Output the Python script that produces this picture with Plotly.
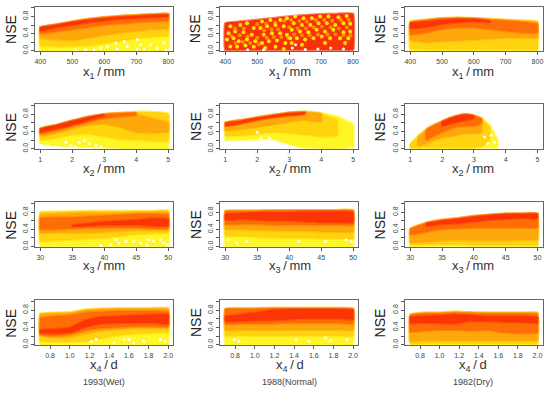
import plotly.graph_objects as go

W, H = 550, 394

# ---------- stations along each parameter ----------
X1 = [400, 450, 500, 550, 600, 650, 700, 750, 800]
X2 = [1, 1.5, 2, 2.5, 3, 3.5, 4, 4.5, 5]
X2_DRY = [1, 1.25, 1.5, 1.75, 2, 2.25, 2.5, 2.75, 3, 3.25, 3.5, 3.75]
X3 = [30, 32.5, 35, 37.5, 40, 42.5, 45, 47.5, 50]
X4 = [0.7, 0.85, 1.0, 1.15, 1.3, 1.5, 1.65, 1.85, 2.0]

# ---------- NSE band limits (colour band lower / upper) ----------
# 1993 wet, x1
w1_base = [0, 0, 0, 0, 0, 0, 0, 0, 0]
w1_top = [.55, .61, .68, .74, .78, .81, .83, .85, .86]
w1_amber_lo = [.12, .10, .10, .12, .17, .22, .28, .32, .35]
w1_orange_lo = [.30, .26, .24, .30, .36, .42, .46, .50, .52]
w1_deep_lo = [.40, .44, .50, .55, .60, .63, .66, .68, .70]
w1_red_lo = [.46, .54, .60, .66, .70, .74, .76, .78, .80]
w1_red_hi = [.54, .60, .67, .72, .76, .79, .81, .83, .84]
# 1993 wet, x2
w2_base = [.12, .06, .04, .04, .02, 0, 0, 0, 0]
w2_top = [.47, .55, .65, .74, .80, .83, .85, .85, .81]
w2_amber_lo = [.20, .25, .32, .34, .28, .22, .20, .18, .18]
w2_orange_lo = [.30, .36, .46, .54, .58, .50, .38, .36, .40]
w2_orange_hi = [.46, .54, .64, .73, .79, .82, .80, .70, .60]
w2_deep_lo = [.34, .42, .52, .62, .70, .74, .78, None, None]
w2_deep_hi = [.46, .55, .65, .74, .80, .82, .84, None, None]
w2_red_lo = [.38, .46, .55, .66, .76, None, None, None, None]
w2_red_hi = [.46, .54, .64, .73, .79, None, None, None, None]
# 1993 wet, x3
w3_base = [0, 0, 0, 0, 0, 0, 0, 0, 0]
w3_top = [.80, .81, .82, .83, .83, .83, .83, .83, .84]
w3_amber_lo = [.12, .14, .16, .18, .20, .24, .28, .30, .32]
w3_orange_lo = [.32, .32, .32, .32, .34, .36, .38, .38, .38]
w3_orange_hi = [.74, .76, .78, .78, .78, .78, .80, .80, .80]
w3_deep_lo = [.40, .40, .42, .44, .44, .44, .44, .42, .42]
w3_deep_hi = [.66, .68, .68, .70, .72, .74, .76, .76, .74]
w3_red_lo = [None, None, .47, .48, .50, .50, .50, .48, .48]
w3_red_hi = [None, None, .50, .54, .58, .60, .62, .66, .64]
# 1993 wet, x4
w4_base = [0, 0, 0, 0, 0, 0, 0, 0, 0]
w4_top = [.72, .74, .75, .81, .835, .845, .845, .845, .845]
w4_amber_lo = [.08, .06, .07, .08, .14, .22, .25, .27, .30]
w4_orange_lo = [.20, .17, .18, .25, .32, .36, .38, .38, .38]
w4_orange_hi = [.70, .72, .73, .79, .82, .83, .83, .83, .83]
w4_deep_lo = [.24, .20, .24, .32, .38, .40, .42, .42, .42]
w4_deep_hi = [.62, .66, .68, .74, .76, .78, .78, .78, .76]
w4_red_lo = [.27, .26, .28, .40, .48, .50, .50, .50, .48]
w4_red_hi = [.34, .36, .40, .56, .64, .66, .68, .70, .70]

# 1988 normal, x1 (red cloud with yellow spots)
n1_base = [.02, .02, .02, .02, .02, .02, .02, .02, .02]
n1_top = [.64, .68, .72, .76, .80, .83, .85, .86, .86]
# 1988 normal, x2
n2_base = [.20, .20, .22, .22, .10, .02, 0, 0, .04]
n2_top = [.615, .67, .73, .79, .84, .86, .83, .75, .56]
n2_amber_lo = [.30, .30, .34, .38, .36, .32, .28, .30, .34]
n2_amber_hi = [.60, .66, .72, .78, .83, .85, .80, .66, None]
n2_orange_lo = [.42, .45, .50, .56, .62, .66, .62, None, None]
n2_orange_hi = [.60, .66, .72, .78, .83, .85, .82, None, None]
n2_red_lo = [.52, .58, .66, .72, .76, .80, None, None, None]
n2_red_hi = [.60, .66, .72, .78, .83, .85, None, None, None]
# 1988 normal, x3
n3_base = [0, 0, 0, 0, 0, 0, 0, 0, 0]
n3_top = [.83, .84, .84, .85, .85, .85, .85, .85, .85]
n3_amber_lo = [.25, .24, .22, .20, .20, .20, .18, .18, .18]
n3_orange_lo = [.40, .40, .38, .38, .36, .36, .34, .34, .34]
n3_deep_lo = [.52, .52, .52, .50, .50, .50, .50, .50, .50]
n3_deep_hi = [.82, .83, .83, .84, .84, .84, .84, .84, .84]
n3_red_lo = [.62, .64, .62, .60, .60, .58, .56, .56, .56]
n3_red_hi = [.76, .78, .80, .80, .80, .82, .82, .82, .80]
# 1988 normal, x4
n4_base = [0, 0, 0, 0, 0, 0, 0, 0, 0]
n4_top = [.83, .84, .84, .85, .85, .85, .85, .85, .84]
n4_amber_lo = [.20, .20, .20, .20, .20, .20, .20, .20, .20]
n4_orange_lo = [.34, .34, .34, .34, .34, .34, .34, .34, .34]
n4_deep_lo = [.48, .48, .48, .48, .50, .50, .50, .50, .48]
n4_deep_hi = [.82, .83, .83, .84, .84, .84, .84, .84, .83]
n4_red_lo = [.54, .54, .56, .56, .58, .60, .60, .60, .58]
n4_red_hi = [.66, .70, .74, .80, .82, .82, .82, .82, .80]

# 1982 dry, x1
d1_base = [0, 0, 0, 0, 0, 0, 0, 0, 0]
d1_top = [.68, .72, .76, .77, .76, .74, .72, .70, .67]
d1_amber_lo = [.05, .03, .03, .03, .03, .03, .03, .03, .03]
d1_orange_lo = [.25, .20, .22, .24, .25, .28, .30, .30, .30]
d1_deep_lo = [.38, .42, .50, .54, .54, .50, .46, .42, .42]
d1_deep_hi = [.66, .71, .75, .76, .75, .72, .70, .67, .62]
d1_red_lo = [.52, .55, .62, .66, .68, .66, None, None, None]
d1_red_hi = [.64, .68, .72, .74, .74, .70, None, None, None]
# 1982 dry, x2
d2_base = [0, 0, 0, 0, 0, 0, 0, 0, 0, .02, .02, .02]
d2_top = [.12, .30, .45, .55, .63, .71, .77, .80, .77, .70, .55, .20]
d2_amber_lo = [.02, .03, .03, .03, .03, .03, .03, .03, .03, .05, .20, None]
d2_amber_hi = [.10, .28, .43, .54, .62, .70, .75, .78, .76, .68, .50, None]
d2_orange_lo = [None, .06, .12, .20, .25, .28, .32, .36, .35, .38, None, None]
d2_orange_hi = [None, .28, .43, .54, .63, .71, .76, .79, .76, .68, None, None]
d2_deep_lo = [None, None, .20, .30, .38, .46, .52, .52, .52, .60, None, None]
d2_deep_hi = [None, None, .44, .55, .63, .71, .77, .80, .77, .70, None, None]
d2_red_lo = [None, None, None, None, .52, .58, .62, .66, .70, None, None, None]
d2_red_hi = [None, None, None, None, .62, .70, .76, .79, .76, None, None, None]
# 1982 dry, x3
d3_base = [0, 0, 0, 0, 0, 0, 0, 0, 0]
d3_top = [.41, .55, .62, .66, .71, .74, .765, .77, .77]
d3_amber_lo = [.04, .04, .04, .04, .03, .03, .03, .03, .03]
d3_orange_lo = [.10, .10, .14, .16, .14, .14, .14, .16, .16]
d3_deep_lo = [.28, .34, .40, .42, .44, .44, .44, .44, .44]
d3_red_lo = [None, .48, .52, .54, .58, .62, .64, .66, .66]
d3_red_hi = [None, .54, .60, .64, .69, .73, .76, .76, .76]
# 1982 dry, x4
d4_base = [0, 0, 0, 0, 0, 0, 0, 0, 0]
d4_top = [.70, .74, .74, .76, .75, .74, .74, .74, .74]
d4_amber_lo = [.02, .02, .02, .02, .02, .02, .02, .02, .02]
d4_orange_lo = [.08, .10, .10, .10, .10, .10, .10, .10, .10]
d4_deep_lo = [.30, .32, .34, .34, .32, .34, .28, .26, .28]
d4_deep_hi = [.68, .72, .72, .74, .73, .72, .72, .72, .70]
d4_red_lo = [.50, .50, .50, .48, .54, .54, .52, .52, .50]
d4_red_hi = [.64, .66, .68, .70, .68, .66, .66, .66, .64]

# ---------- individual spots ----------
n1_yellow_x = [416, 447, 468, 489, 515, 541, 572, 593, 410, 431, 457, 483, 510, 531, 557, 583, 405, 426,
               442, 468, 494, 520, 546, 572, 593, 416, 437, 463, 489, 515, 536, 562, 588, 525, 557, 583,
               619, 645, 671, 697, 723, 754, 780, 614, 640, 666, 692, 718, 744, 770, 791, 608, 634, 660,
               686, 712, 738, 770, 791, 603, 624, 650, 676, 702, 728, 759, 785, 608, 640, 712, 775]
n1_yellow_y = [.57, .60, .64, .53, .68, .72, .72, .76, .41, .45, .43, .37, .53, .57, .60, .57, .26, .29,
               .22, .26, .22, .37, .41, .41, .37, .10, .09, .12, .09, .18, .22, .24, .18, .06, .09, .04,
               .80, .76, .76, .80, .80, .78, .81, .64, .60, .60, .64, .64, .60, .64, .63, .49, .45, .43,
               .49, .45, .49, .43, .45, .29, .29, .26, .29, .33, .29, .29, .29, .18, .14, .18, .18]
n1_orange_x = [430, 458, 500, 528, 556, 585, 606, 632, 655, 684, 710, 735, 762, 786, 420, 445, 470, 500,
               522, 545, 565, 600, 626, 652, 676, 702, 730, 755, 780, 432, 455, 478, 505, 530, 552, 575,
               596, 615, 640, 664, 690, 720, 745, 770, 792]
n1_orange_y = [.52, .52, .62, .63, .66, .70, .72, .70, .68, .72, .72, .70, .72, .72, .34, .36, .34, .30,
               .47, .50, .50, .55, .52, .52, .55, .56, .55, .52, .54, .18, .20, .18, .15, .30, .32, .32,
               .30, .38, .36, .36, .38, .38, .38, .36, .36]
n1_hole_x = [610, 650, 690, 730, 770, 620, 520, 470]
n1_hole_y = [.06, .03, .04, .06, .04, .14, .02, .02]
w1_hole_x = [511, 542, 589, 610, 636, 662, 672, 703, 714, 724, 745, 765, 786, 641, 703, 792, 568]
w1_hole_y = [.02, .02, .06, .10, .18, .22, .10, .26, .14, .04, .14, .06, .18, .04, .04, .02, .02]
w2_hole_x = [1.23, 1.49, 1.8, 1.96, 2.22, 2.38, 2.53, 2.74, 1.02, 2.9, 2.11]
w2_hole_y = [.06, .04, .15, .08, .15, .19, .12, .08, .08, .04, .04]
n2_hole_x = [2.11, 2.27, 2.38, 2.0]
n2_hole_y = [.25, .17, .25, .38]
d2_hole_x = [3.34, 3.55, 3.65, 3.44, 3.7]
d2_hole_y = [.27, .31, .15, .12, .38]
w3_hole_x = [41.8, 42.3, 43.4, 44.6, 45.7, 46.9, 47.7, 48.8, 49.3, 46.7, 39.5, 41, 49.8]
w3_hole_y = [.16, .08, .12, .12, .08, .16, .12, .16, .08, .04, .02, .04, .04]
n3_hole_x = [30.5, 31.8, 33.4, 41.5, 45.7, 48.9, 49.7]
n3_hole_y = [.16, .08, .12, .12, .12, .16, .12]
w4_hole_x = [1.22, 1.27, 1.55, 1.6, 1.75, 1.92, 1.97, 1.45, 1.65]
w4_hole_y = [.08, .12, .12, .12, .08, .12, .08, .04, .04]
n4_hole_x = [.79, .84, 1.72, 1.77, 1.94, 1.55, 1.42]
n4_hole_y = [.12, .08, .16, .09, .12, .08, .12]

# ---------- axis labels ----------
TICKS_X1 = [400, 500, 600, 700, 800]
TICKS_X2 = [1, 2, 3, 4, 5]
TICKS_X3 = [30, 35, 40, 45, 50]
TICKS_X4 = [0.8, 1.0, 1.2, 1.4, 1.6, 1.8, 2.0]
LABELS_X4 = ["0.8", "1.0", "1.2", "1.4", "1.6", "1.8", "2.0"]
TICKS_Y = [0, .4, .8]
LABELS_Y = ["0.0", "0.4", "0.8"]
MINOR_Y = [.2, .6, 1.0]
TITLES_X = ["x<sub>1</sub>\u2009/\u2009mm", "x<sub>2</sub>\u2009/\u2009mm",
            "x<sub>3</sub>\u2009/\u2009mm", "x<sub>4</sub>\u2009/\u2009d"]
CAPTIONS = ["1993(Wet)", "1988(Normal)", "1982(Dry)"]

# ---------- styles and geometry ----------
YELLOW = (255, 245, 0)
AMBER = (255, 205, 10)
ORANGE = (255, 160, 10)
DEEP = (255, 100, 5)
RED = (250, 45, 5)
COLS = [(34.3, 173), (220, 358.5), (405.7, 543.5)]
ROWS = [(6.7, 51.7), (105, 150.5), (204, 249), (302.5, 348)]
XR = [(384, 816), (0.84, 5.16), (29.2, 50.8), (0.648, 2.052)]
YR = [-0.015, 1.03]
TITLE_Y = [73, 171, 269, 368]
TITLE_CX = [103, 290, 474]
NSE_X = [10, 195, 380]

fig = go.Figure()


def rgba(c, a):
    return f"rgba({c[0]},{c[1]},{c[2]},{a})"


def band(ax, xs, lo, hi, color):
    pairs = [(x, a, b) for x, a, b in zip(xs, lo, hi) if a is not None and b is not None]
    px = [p[0] for p in pairs]
    fig.add_trace(go.Scatter(
        x=px + px[::-1] + px[:1],
        y=[p[1] for p in pairs] + [p[2] for p in pairs][::-1] + [pairs[0][1]],
        xaxis=f"x{ax}", yaxis=f"y{ax}", mode="lines", fill="toself", fillcolor=rgba(color, 0.85),
        line=dict(color=rgba(color, 0.4), width=2.5, shape="spline", smoothing=0.25),
        hoverinfo="skip", showlegend=False))


def spots(ax, xs, ys, color, size):
    fig.add_trace(go.Scatter(x=xs, y=ys, xaxis=f"x{ax}", yaxis=f"y{ax}", mode="markers",
                             marker=dict(color=color, size=size, line=dict(width=0)),
                             hoverinfo="skip", showlegend=False))


PANELS = [
    # row, col, xs, [(lo, hi, colour) ...], holes
    (0, 0, X1, [(w1_base, w1_top, YELLOW), (w1_amber_lo, w1_top, AMBER), (w1_orange_lo, w1_top, ORANGE),
                (w1_deep_lo, w1_top, DEEP), (w1_red_lo, w1_red_hi, RED)], (w1_hole_x, w1_hole_y)),
    (0, 1, X1, [(n1_base, n1_top, RED), (n1_base, n1_top, RED)], (n1_hole_x, n1_hole_y)),
    (0, 2, X1, [(d1_base, d1_top, YELLOW), (d1_amber_lo, d1_top, AMBER), (d1_orange_lo, d1_top, ORANGE),
                (d1_deep_lo, d1_deep_hi, DEEP), (d1_red_lo, d1_red_hi, RED)], None),
    (1, 0, X2, [(w2_base, w2_top, YELLOW), (w2_amber_lo, w2_top, AMBER), (w2_orange_lo, w2_orange_hi, ORANGE),
                (w2_deep_lo, w2_deep_hi, DEEP), (w2_red_lo, w2_red_hi, RED)], (w2_hole_x, w2_hole_y)),
    (1, 1, X2, [(n2_base, n2_top, YELLOW), (n2_amber_lo, n2_amber_hi, AMBER), (n2_orange_lo, n2_orange_hi, ORANGE),
                (n2_red_lo, n2_red_hi, RED)], (n2_hole_x, n2_hole_y)),
    (1, 2, X2_DRY, [(d2_base, d2_top, YELLOW), (d2_amber_lo, d2_amber_hi, AMBER), (d2_orange_lo, d2_orange_hi, ORANGE),
                    (d2_deep_lo, d2_deep_hi, DEEP), (d2_red_lo, d2_red_hi, RED)], (d2_hole_x, d2_hole_y)),
    (2, 0, X3, [(w3_base, w3_top, YELLOW), (w3_amber_lo, w3_top, AMBER), (w3_orange_lo, w3_orange_hi, ORANGE),
                (w3_deep_lo, w3_deep_hi, DEEP), (w3_red_lo, w3_red_hi, RED)], (w3_hole_x, w3_hole_y)),
    (2, 1, X3, [(n3_base, n3_top, YELLOW), (n3_amber_lo, n3_top, AMBER), (n3_orange_lo, n3_top, ORANGE),
                (n3_deep_lo, n3_deep_hi, DEEP), (n3_red_lo, n3_red_hi, RED)], (n3_hole_x, n3_hole_y)),
    (2, 2, X3, [(d3_base, d3_top, YELLOW), (d3_amber_lo, d3_top, AMBER), (d3_orange_lo, d3_top, ORANGE),
                (d3_deep_lo, d3_top, DEEP), (d3_red_lo, d3_red_hi, RED)], None),
    (3, 0, X4, [(w4_base, w4_top, YELLOW), (w4_amber_lo, w4_top, AMBER), (w4_orange_lo, w4_orange_hi, ORANGE),
                (w4_deep_lo, w4_deep_hi, DEEP), (w4_red_lo, w4_red_hi, RED)], (w4_hole_x, w4_hole_y)),
    (3, 1, X4, [(n4_base, n4_top, YELLOW), (n4_amber_lo, n4_top, AMBER), (n4_orange_lo, n4_top, ORANGE),
                (n4_deep_lo, n4_deep_hi, DEEP), (n4_red_lo, n4_red_hi, RED)], (n4_hole_x, n4_hole_y)),
    (3, 2, X4, [(d4_base, d4_top, YELLOW), (d4_amber_lo, d4_top, AMBER), (d4_orange_lo, d4_top, ORANGE),
                (d4_deep_lo, d4_deep_hi, DEEP), (d4_red_lo, d4_red_hi, RED)], None),
]
XTICKS = [(TICKS_X1, [str(v) for v in TICKS_X1]), (TICKS_X2, [str(v) for v in TICKS_X2]),
          (TICKS_X3, [str(v) for v in TICKS_X3]), (TICKS_X4, LABELS_X4)]

layout = {}
annotations = []
tickfont = dict(family="Liberation Sans", size=7, color="#2f4a44")
for row, col, xs, layers, holes in PANELS:
    ax = row * 3 + col + 1
    for lo, hi, color in layers:
        band(ax, xs, lo, hi, color)
    if row == 0 and col == 1:
        spots(ax, n1_orange_x, n1_orange_y, "#ff8c00", 4)
        spots(ax, n1_yellow_x, n1_yellow_y, "#ffe600", 4)
    if holes:
        spots(ax, holes[0], holes[1], "white", 3)
    x0, x1 = COLS[col]
    y0, y1 = ROWS[row]
    layout[f"xaxis{ax}"] = dict(
        domain=[x0 / W, x1 / W], range=XR[row], anchor=f"y{ax}", showgrid=False, zeroline=False,
        tickmode="array", tickvals=XTICKS[row][0], ticktext=XTICKS[row][1], ticks="outside", ticklen=3,
        tickcolor="#555", tickwidth=1, tickfont=tickfont, showline=True, linecolor="#666", linewidth=1.2,
        mirror=True, tickangle=0)
    layout[f"yaxis{ax}"] = dict(
        domain=[1 - y1 / H, 1 - y0 / H], range=YR, anchor=f"x{ax}", showgrid=False, zeroline=False,
        tickmode="array", tickvals=TICKS_Y, ticktext=LABELS_Y, ticks="outside", ticklen=3,
        minor=dict(tickmode="array", tickvals=MINOR_Y, ticks="outside", ticklen=3, tickcolor="#555",
                   tickwidth=1, showgrid=False),
        tickcolor="#555", tickwidth=1, tickfont=tickfont, tickangle=-90, showline=True, linecolor="#666",
        linewidth=1.2, mirror=True)
    annotations.append(dict(text=TITLES_X[row], x=TITLE_CX[col] / W, y=1 - TITLE_Y[row] / H, xref="paper",
                            yref="paper", showarrow=False, xanchor="center", yanchor="middle",
                            font=dict(family="Liberation Sans", size=13, color="#333")))
    annotations.append(dict(text="NSE", x=NSE_X[col] / W, y=1 - (y0 + y1) / 2 / H, xref="paper", yref="paper",
                            showarrow=False, textangle=-90, xanchor="center", yanchor="middle",
                            font=dict(family="Liberation Sans", size=14, color="#222")))
for cap, cx in zip(CAPTIONS, TITLE_CX):
    annotations.append(dict(text=cap, x=cx / W, y=1 - 385 / H, xref="paper", yref="paper", showarrow=False,
                            xanchor="center", yanchor="middle",
                            font=dict(family="Liberation Sans", size=9, color="#444")))

fig.update_layout(width=W, height=H, margin=dict(l=0, r=0, t=0, b=0), paper_bgcolor="white",
                  plot_bgcolor="white", showlegend=False, annotations=annotations, **layout)
fig.write_html("out.html", config={"displayModeBar": False}, post_script="document.body.style.margin='0';")
